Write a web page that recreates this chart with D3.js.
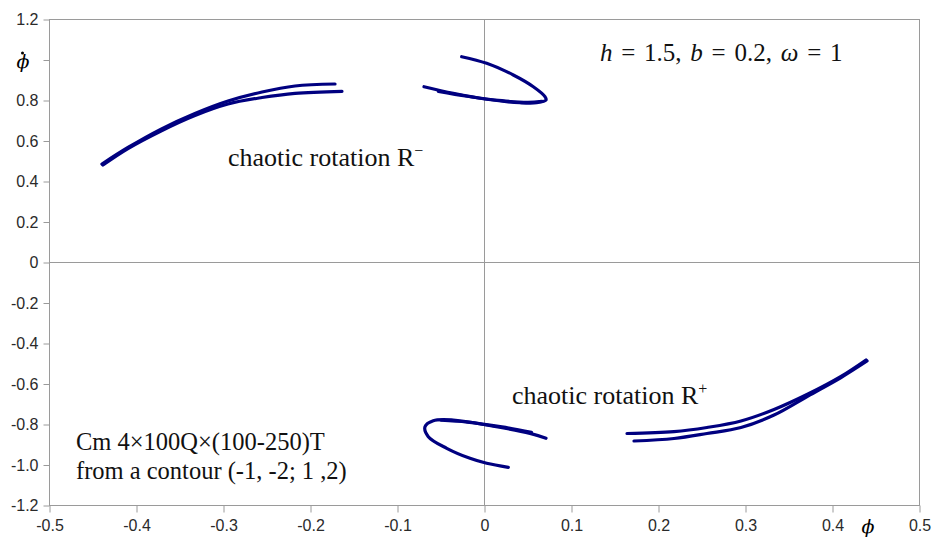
<!DOCTYPE html>
<html>
<head>
<meta charset="utf-8">
<script src="https://cdn.jsdelivr.net/npm/d3@7"></script>
<style>
  html, body { margin: 0; padding: 0; background: #fff; }
  svg { display: block; }
  .tick text { font-family: "Liberation Sans", Arial, sans-serif; font-size: 16px; fill: #2a2a2a; }
  .tick line, .domain { stroke: #9a9a9a; }
  .note { font-family: "Liberation Serif", "Times New Roman", serif; font-size: 24px; fill: #111; }
  .sym { font-family: "DejaVu Serif", "Liberation Serif", serif; font-style: italic; fill: #000; }
</style>
</head>
<body>
<svg id="chart" width="933" height="541"></svg>
<script>
// Phase-plane trajectories (φ, dφ/dt) of the two chaotic rotation attractors
const xTicks = [-0.5, -0.4, -0.3, -0.2, -0.1, 0, 0.1, 0.2, 0.3, 0.4, 0.5];
const yTicks = [-1.2, -1.0, -0.8, -0.6, -0.4, -0.2, 0, 0.2, 0.4, 0.6, 0.8, 1.0, 1.2];

// R− : long arc in the upper-left quadrant (two close strands)
const arcMinusA = [[-0.4397, 0.4864], [-0.4098, 0.568], [-0.3718, 0.659], [-0.3328, 0.736], [-0.2948, 0.7975], [-0.2557, 0.842], [-0.2178, 0.8716], [-0.1718, 0.8815]];
const arcMinusB = [[-0.4385, 0.4815], [-0.4098, 0.5625], [-0.3718, 0.6494], [-0.3328, 0.7259], [-0.2948, 0.7827], [-0.2557, 0.8148], [-0.2178, 0.8356], [-0.1638, 0.8454]];
// R− : hook crossing φ = 0 near the top
const hookMinusA = [[-0.0262, 1.0163], [0.0025, 0.9837], [0.0331, 0.926], [0.0561, 0.868], [0.0695, 0.819], [0.0707, 0.8025], [0.06, 0.789], [0.0408, 0.789], [0.0025, 0.806], [-0.0359, 0.8356], [-0.0695, 0.868]];
const hookMinusB = [[0.066, 0.796], [0.05, 0.791], [0.02, 0.799], [-0.02, 0.821], [-0.053, 0.845]];

// R+ : long arc in the lower-right quadrant
const arcPlusA = [[0.4397, -0.4864], [0.4098, -0.568], [0.3718, -0.6593], [0.3328, -0.7531], [0.2948, -0.8148], [0.2557, -0.8444], [0.2178, -0.869], [0.1718, -0.8815]];
const arcPlusB = [[0.4385, -0.4815], [0.4098, -0.5625], [0.3718, -0.6494], [0.3328, -0.7259], [0.2948, -0.7827], [0.2557, -0.8148], [0.2178, -0.8356], [0.1638, -0.8444]];
// R+ : hook crossing φ = 0 near the bottom
const hookPlusA = [[0.0707, -0.868], [0.0523, -0.844], [0.0025, -0.8025], [-0.0359, -0.7778], [-0.0589, -0.7812], [-0.0684, -0.811], [-0.0646, -0.86], [-0.0434, -0.9175], [-0.0167, -0.967], [0.0025, -0.9916], [0.0274, -1.0114]];
const hookPlusB = [[0.054, -0.839], [0.02, -0.812], [-0.02, -0.788], [-0.05, -0.779]];

const strands = [arcMinusA, arcMinusB, hookMinusA, hookMinusB, arcPlusA, arcPlusB, hookPlusA, hookPlusB];

const svg = d3.select("#chart");
const plotLeft = 49.5, plotRight = 919.5, plotTop = 19.5, plotBottom = 505.5;

const x = d3.scaleLinear().domain([-0.5, 0.5]).range([plotLeft, plotRight]);
const y = d3.scaleLinear().domain([-1.2, 1.2]).range([plotBottom, plotTop]);

// plain hyphen for negatives, bare "0" at the origin
const fmt = v => Math.abs(v) < 1e-9 ? "0" : d3.format(".1f")(v).replace("\u2212", "-");

// plot frame
svg.append("rect")
  .attr("x", plotLeft).attr("y", plotTop)
  .attr("width", plotRight - plotLeft).attr("height", plotBottom - plotTop)
  .attr("fill", "none").attr("stroke", "#9a9a9a").attr("stroke-width", 1);

// crossing axes through the origin
svg.append("line")
  .attr("x1", x(0)).attr("x2", x(0)).attr("y1", plotTop).attr("y2", plotBottom)
  .attr("stroke", "#9a9a9a");
svg.append("line")
  .attr("x1", plotLeft).attr("x2", plotRight).attr("y1", y(0)).attr("y2", y(0))
  .attr("stroke", "#9a9a9a");

// bottom axis
const gx = svg.append("g")
  .attr("transform", `translate(0,${plotBottom})`)
  .call(d3.axisBottom(x).tickValues(xTicks).tickFormat(fmt).tickSize(7).tickSizeOuter(0).tickPadding(7));
gx.select(".domain").remove();

// left axis; the 1.0 position carries the φ̇ axis title instead of a number
const gy = svg.append("g")
  .attr("transform", `translate(${plotLeft},0)`)
  .call(d3.axisLeft(y).tickValues(yTicks)
    .tickFormat(v => Math.abs(v - 1.0) < 1e-9 ? "" : fmt(v))
    .tickSize(6).tickSizeOuter(0).tickPadding(5));
gy.select(".domain").remove();

// axis titles: φ̇ (time-derivative dot drawn above the glyph) and φ
svg.append("text").attr("class", "sym")
  .attr("x", 23).attr("y", y(1.0) + 8)
  .attr("text-anchor", "middle").style("font-size", "19px")
  .text("\u03D5");
svg.append("circle")
  .attr("cx", 22.5).attr("cy", y(1.0) - 7)
  .attr("r", 1.5).attr("fill", "#000");
svg.append("text").attr("class", "sym")
  .attr("x", 868).attr("y", 533)
  .attr("text-anchor", "middle").style("font-size", "19px")
  .text("\u03D5");

// trajectories
const line = d3.line().x(d => x(d[0])).y(d => y(d[1])).curve(d3.curveCatmullRom.alpha(0.5));
svg.append("g")
  .selectAll("path")
  .data(strands)
  .join("path")
  .attr("d", line)
  .attr("fill", "none")
  .attr("stroke", "#000080")
  .attr("stroke-width", 3.2)
  .attr("stroke-linecap", "round")
  .attr("stroke-linejoin", "round");

// annotations
const params = svg.append("text").attr("class", "note")
  .attr("x", 600).attr("y", 61)
  .style("font-size", "25px").style("word-spacing", "2.5px");
params.append("tspan").style("font-style", "italic").text("h");
params.append("tspan").text(" = 1.5, ");
params.append("tspan").style("font-style", "italic").text("b");
params.append("tspan").text(" = 0.2, ");
params.append("tspan").style("font-style", "italic").text("\u03C9");
params.append("tspan").text(" = 1");

const rMinus = svg.append("text").attr("class", "note")
  .attr("x", 228).attr("y", 166).style("font-size", "26px");
rMinus.append("tspan").text("chaotic rotation R");
rMinus.append("tspan").attr("dy", -10).style("font-size", "16px").text("\u2212");

const rPlus = svg.append("text").attr("class", "note")
  .attr("x", 512).attr("y", 404).style("font-size", "26px");
rPlus.append("tspan").text("chaotic rotation R");
rPlus.append("tspan").attr("dy", -10).style("font-size", "16px").text("+");

svg.append("text").attr("class", "note").attr("x", 76).attr("y", 450)
  .style("font-size", "24.5px")
  .text("Cm 4\u00D7100Q\u00D7(100-250)T");
svg.append("text").attr("class", "note").attr("x", 76).attr("y", 479)
  .style("font-size", "24.5px")
  .text("from a contour (-1, -2; 1 ,2)");
</script>
</body>
</html>
